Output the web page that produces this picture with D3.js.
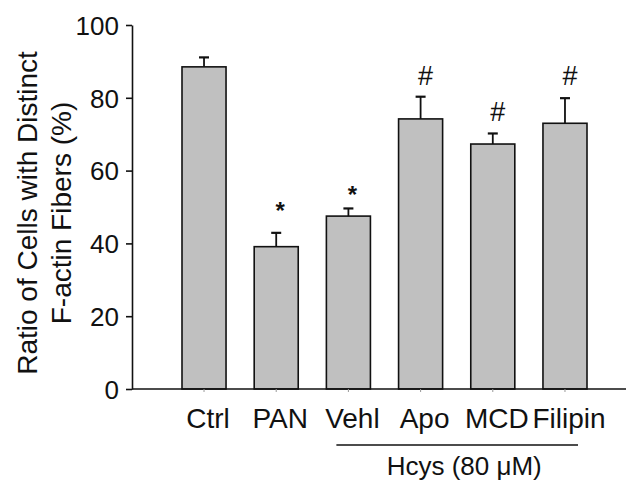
<!DOCTYPE html>
<html>
<head>
<meta charset="utf-8">
<script src="https://cdn.jsdelivr.net/npm/d3@7"></script>
<style>
  body { margin: 0; background: #fff; }
  text { font-family: "Liberation Sans", Arial, sans-serif; fill: #111; }
</style>
</head>
<body>
<svg id="chart"></svg>
<script>
// values
const groups = ['Ctrl', 'PAN', 'Vehl', 'Apo', 'MCD', 'Filipin']
const means = [88.5, 39.1, 47.5, 74.2, 67.3, 73.0]
const errors = [2.6, 3.8, 2.1, 6.1, 2.9, 6.9]
const marks = ['', '*', '*', '#', '#', '#']
const markLevels = [null, 51.2, 55.8, 86.3, 76.4, 86.3]
const yTicks = [0, 20, 40, 60, 80, 100]
const hcysGroups = ['Vehl', 'Filipin']

const width = 626, height = 485
const svg = d3.select('#chart').attr('width', width).attr('height', height)

const axisLeftX = 132
const y = d3.scaleLinear().domain([0, 100]).range([389, 25])
const x = d3.scaleBand().domain(groups).range([182, 587]).paddingInner(0.39).paddingOuter(0)

const data = groups.map((g, i) => ({ g, v: means[i], e: errors[i], m: marks[i], ml: markLevels[i] }))

// y axis
const yAxis = svg.append('g')
  .attr('transform', `translate(${axisLeftX},0)`)
  .call(d3.axisLeft(y).tickValues(yTicks).tickSize(6).tickSizeOuter(0).tickPadding(7))
yAxis.selectAll('path, line').attr('stroke', '#111').attr('stroke-width', 1.6)
yAxis.selectAll('text').attr('font-size', 26).attr('dy', '0.36em')

// bars
svg.append('g').selectAll('rect')
  .data(data)
  .enter().append('rect')
  .attr('x', d => x(d.g))
  .attr('y', d => y(d.v))
  .attr('width', x.bandwidth())
  .attr('height', d => y(0) - y(d.v))
  .attr('fill', '#c0c0c0')
  .attr('stroke', '#111')
  .attr('stroke-width', 1.6)

// error bars (upper only)
const eb = svg.append('g').attr('stroke', '#111').attr('stroke-width', 1.8)
data.forEach(d => {
  const cx = x(d.g) + x.bandwidth() / 2
  eb.append('line').attr('x1', cx).attr('x2', cx).attr('y1', y(d.v)).attr('y2', y(d.v + d.e))
  eb.append('line').attr('x1', cx - 5).attr('x2', cx + 5).attr('y1', y(d.v + d.e)).attr('y2', y(d.v + d.e))
    .attr('stroke-width', 2.2)
})

// significance marks
svg.append('g').selectAll('text')
  .data(data.filter(d => d.m))
  .enter().append('text')
  .attr('x', d => x(d.g) + x.bandwidth() / 2 + (d.m === '*' ? 4 : 5))
  .attr('y', d => y(d.ml))
  .attr('dy', d => d.m === '*' ? '0.7em' : '0.36em')
  .attr('text-anchor', 'middle')
  .attr('font-size', d => d.m === '*' ? 24 : 27)
  .attr('font-weight', d => d.m === '*' ? 'bold' : 'normal')
  .text(d => d.m)

// x axis
svg.append('line')
  .attr('x1', axisLeftX).attr('x2', width)
  .attr('y1', y(0)).attr('y2', y(0))
  .attr('stroke', '#111').attr('stroke-width', 1.6)
const xAxis = svg.append('g')
  .attr('transform', `translate(0,${y(0)})`)
  .call(d3.axisBottom(x).tickSize(3).tickSizeOuter(0).tickPadding(16))
xAxis.select('.domain').remove()
xAxis.selectAll('line').attr('stroke', '#999').attr('stroke-width', 1)
xAxis.selectAll('text').attr('font-size', 28).attr('dx', 4).attr('dy', '0.72em')

// Hcys bracket
const hx1 = x(hcysGroups[0]) + 10
const hx2 = x(hcysGroups[1]) + x.bandwidth() - 9
svg.append('line')
  .attr('x1', hx1).attr('x2', hx2).attr('y1', 445).attr('y2', 445)
  .attr('stroke', '#111').attr('stroke-width', 1.6)
svg.append('text')
  .attr('x', (hx1 + hx2) / 2 + 7)
  .attr('y', 475)
  .attr('text-anchor', 'middle')
  .attr('font-size', 26)
  .text('Hcys (80 μM)')

// y title
const title = svg.append('text')
  .attr('transform', 'translate(0,213) rotate(-90)')
  .attr('text-anchor', 'middle')
  .attr('font-size', 28)
title.append('tspan').attr('x', 0).attr('y', 37).text('Ratio of Cells with Distinct')
title.append('tspan').attr('x', 0).attr('y', 71).text('F-actin Fibers (%)')
</script>
</body>
</html>
